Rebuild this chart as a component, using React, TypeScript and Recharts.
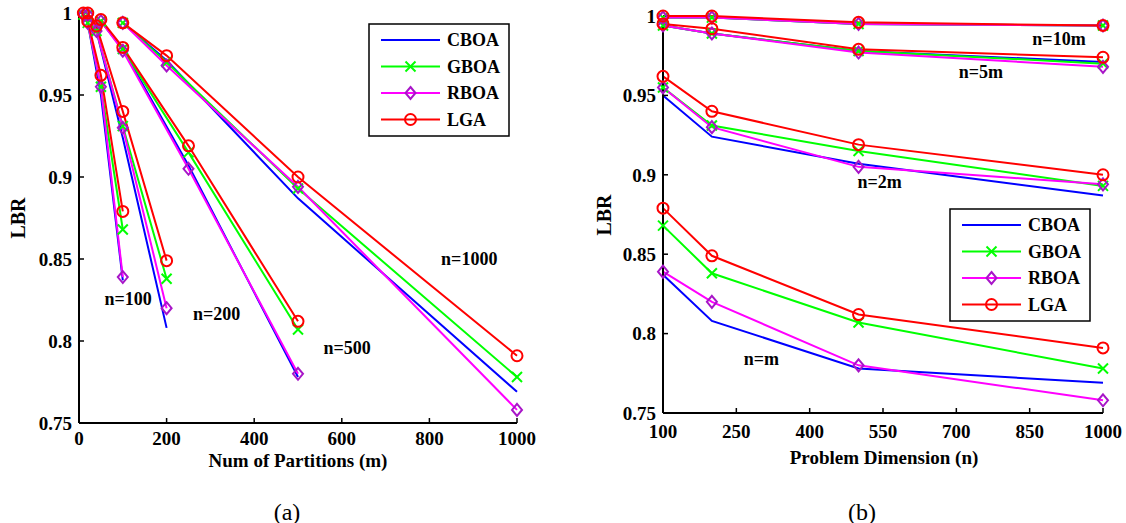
import React from 'react';
import { LineChart, Line, XAxis, YAxis, ReferenceDot } from 'recharts';

const FONT = "Liberation Serif, DejaVu Serif, serif";

// problem dimensions n, and the n/m ratios each curve family was run at
const DIMS = [100, 200, 500, 1000];
const RATIOS = [1, 2, 5, 10];
const DIM_LABELS = ['n=100', 'n=200', 'n=500', 'n=1000'];
const RATIO_LABELS = ['n=m', 'n=2m', 'n=5m', 'n=10m'];

const M_TICKS = [0, 200, 400, 600, 800, 1000];
const N_TICKS = [100, 250, 400, 550, 700, 850, 1000];
const LBR_TICKS = [0.75, 0.8, 0.85, 0.9, 0.95, 1];

// LBR at n = 100, 200, 500, 1000
const CBOA_R1 = [0.837, 0.808, 0.778, 0.769];
const CBOA_R2 = [0.95, 0.924, 0.907, 0.887];
const CBOA_R5 = [0.994, 0.989, 0.978, 0.971];
const CBOA_R10 = [0.999, 0.999, 0.995, 0.994];

const GBOA_R1 = [0.868, 0.838, 0.807, 0.778];
const GBOA_R2 = [0.955, 0.931, 0.915, 0.893];
const GBOA_R5 = [0.994, 0.989, 0.978, 0.97];
const GBOA_R10 = [0.999, 0.999, 0.995, 0.994];

const RBOA_R1 = [0.839, 0.82, 0.78, 0.758];
const RBOA_R2 = [0.955, 0.93, 0.905, 0.894];
const RBOA_R5 = [0.994, 0.989, 0.977, 0.968];
const RBOA_R10 = [0.999, 0.999, 0.995, 0.994];

const LGA_R1 = [0.879, 0.849, 0.812, 0.791];
const LGA_R2 = [0.962, 0.94, 0.919, 0.9];
const LGA_R5 = [0.995, 0.992, 0.979, 0.974];
const LGA_R10 = [1.0, 1.0, 0.996, 0.994];

const DIAMOND = '#a815c8';

const ALGOS = [
  { name: 'CBOA', color: '#0000ff', mark: 'none', rows: [CBOA_R1, CBOA_R2, CBOA_R5, CBOA_R10] },
  { name: 'GBOA', color: '#00ff00', mark: 'x', rows: [GBOA_R1, GBOA_R2, GBOA_R5, GBOA_R10] },
  { name: 'RBOA', color: '#ff00ff', mark: 'diamond', rows: [RBOA_R1, RBOA_R2, RBOA_R5, RBOA_R10] },
  { name: 'LGA', color: '#ff0000', mark: 'circle', rows: [LGA_R1, LGA_R2, LGA_R5, LGA_R10] },
];

type Pt = { x: number; v: number };

// (a): fixed n, m = n / ratio
const byDim = (rows: number[][], j: number): Pt[] =>
  RATIOS.map((k, i) => ({ x: DIMS[j] / k, v: rows[i][j] })).sort((a, b) => a.x - b.x);

// (b): fixed ratio, across n
const byRatio = (rows: number[][], i: number): Pt[] => DIMS.map((n, j) => ({ x: n, v: rows[i][j] }));

function Marker({ kind, cx, cy }: { kind: string; cx: number; cy: number }) {
  if (kind === 'x')
    return (
      <g stroke="#00ff00" strokeWidth={2}>
        <line x1={cx - 5} y1={cy - 5} x2={cx + 5} y2={cy + 5} />
        <line x1={cx - 5} y1={cy + 5} x2={cx + 5} y2={cy - 5} />
      </g>
    );
  if (kind === 'diamond')
    return (
      <polygon
        points={`${cx},${cy - 6} ${cx + 5},${cy} ${cx},${cy + 6} ${cx - 5},${cy}`}
        fill="none"
        stroke={DIAMOND}
        strokeWidth={2}
      />
    );
  if (kind === 'circle') return <circle cx={cx} cy={cy} r={5.5} fill="none" stroke="#ff0000" strokeWidth={2} />;
  return null;
}

const tickFont = { fill: '#000', fontSize: 19, fontWeight: 700, fontFamily: FONT };
const axisLine = { stroke: '#000', strokeWidth: 2 };
const tickLine = { stroke: '#000', strokeWidth: 1.5 };

type Note = { text: string; x: number; y: number };
type Series = { id: string; color: string; mark: string; data: Pt[] };

function Panel({
  width,
  margin,
  xDomain,
  xTicks,
  xGap,
  series,
  notes,
}: {
  width: number;
  margin: { top: number; right: number; bottom: number; left: number };
  xDomain: [number, number];
  xTicks: number[];
  xGap: number;
  series: Series[];
  notes: Note[];
}) {
  return (
    <LineChart width={width} height={523} margin={margin} style={{ fontFamily: FONT }}>
      <XAxis
        xAxisId="b"
        type="number"
        dataKey="x"
        domain={xDomain}
        ticks={xTicks}
        interval={0}
        height={40}
        tickSize={-5}
        tickMargin={xGap}
        axisLine={axisLine}
        tickLine={tickLine}
        tick={tickFont}
      />
      <XAxis
        xAxisId="t"
        orientation="top"
        type="number"
        dataKey="x"
        domain={xDomain}
        ticks={xTicks}
        interval={0}
        height={0}
        tickSize={-5}
        axisLine={axisLine}
        tickLine={tickLine}
        tick={false}
      />
      <YAxis
        yAxisId="l"
        type="number"
        domain={[0.75, 1]}
        ticks={LBR_TICKS}
        interval={0}
        width={60}
        tickSize={-5}
        tickMargin={12}
        axisLine={axisLine}
        tickLine={tickLine}
        tick={tickFont}
      />
      <YAxis
        yAxisId="r"
        orientation="right"
        type="number"
        domain={[0.75, 1]}
        ticks={LBR_TICKS}
        interval={0}
        width={0}
        tickSize={-5}
        axisLine={axisLine}
        tickLine={tickLine}
        tick={false}
      />
      {series.map((s) => (
        <Line
          key={s.id}
          xAxisId="b"
          yAxisId="l"
          data={s.data}
          dataKey="v"
          type="linear"
          stroke={s.color}
          strokeWidth={2}
          isAnimationActive={false}
          activeDot={false}
          dot={
            s.mark === 'none'
              ? false
              : (p: any) => <Marker key={`${s.id}-${p.index}`} kind={s.mark} cx={p.cx} cy={p.cy} />
          }
        />
      ))}
      {notes.map((n) => (
        <ReferenceDot
          key={n.text}
          xAxisId="b"
          yAxisId="l"
          x={n.x}
          y={n.y}
          r={0}
          fill="none"
          stroke="none"
          ifOverflow="visible"
          label={{ value: n.text, position: 'center', fill: '#000', fontSize: 18, fontWeight: 700, fontFamily: FONT }}
        />
      ))}
    </LineChart>
  );
}

function LegendBox({ left, top }: { left: number; top: number }) {
  return (
    <svg width={142} height={115} style={{ position: 'absolute', left, top }}>
      <rect x={1} y={1} width={140} height={112} fill="#fff" stroke="#000" strokeWidth={1.5} />
      {ALGOS.map((a, i) => {
        const y = 17 + i * 26.5;
        return (
          <g key={a.name}>
            <line x1={13} x2={72} y1={y} y2={y} stroke={a.color} strokeWidth={2} />
            <Marker kind={a.mark} cx={42.5} cy={y} />
            <text x={79} y={y} dy="0.35em" style={{ fontFamily: FONT }} fontWeight={700} fontSize={18} fill="#000">
              {a.name}
            </text>
          </g>
        );
      })}
    </svg>
  );
}

function Caption({ x, y, text, size = 20, bold = true, rotate = false }: any) {
  return (
    <div
      style={{
        position: 'absolute',
        left: x,
        top: y,
        transform: `translate(-50%, -50%)${rotate ? ' rotate(-90deg)' : ''}`,
        whiteSpace: 'nowrap',
        fontFamily: FONT,
        fontSize: size,
        fontWeight: bold ? 700 : 400,
        lineHeight: 1,
        color: '#000',
      }}
    >
      {text}
    </div>
  );
}

// label anchors in data coordinates
const DIM_NOTE_AT = [
  [112, 0.826],
  [314, 0.817],
  [612, 0.796],
  [891, 0.85],
];
const RATIO_NOTE_AT = [
  [301, 0.784],
  [543, 0.8955],
  [750, 0.965],
  [910, 0.986],
];

export default function App() {
  const left: Series[] = [];
  const right: Series[] = [];
  ALGOS.forEach((a) => {
    DIMS.forEach((n, j) =>
      left.push({ id: `${a.name}-n${n}`, color: a.color, mark: a.mark, data: byDim(a.rows, j) })
    );
    RATIOS.forEach((k, i) =>
      right.push({ id: `${a.name}-k${k}`, color: a.color, mark: a.mark, data: byRatio(a.rows, i) })
    );
  });

  const leftNotes = DIM_LABELS.map((t, i) => ({ text: t, x: DIM_NOTE_AT[i][0], y: DIM_NOTE_AT[i][1] }));
  const rightNotes = RATIO_LABELS.map((t, i) => ({ text: t, x: RATIO_NOTE_AT[i][0], y: RATIO_NOTE_AT[i][1] }));

  return (
    <div style={{ position: 'absolute', left: 0, top: 0, width: 1126, height: 523, background: '#fff', fontFamily: FONT }}>
      <div style={{ position: 'absolute', left: 0, top: 0 }}>
        <Panel
          width={560}
          margin={{ top: 13, right: 43, bottom: 60, left: 19 }}
          xDomain={[0, 1000]}
          xTicks={M_TICKS}
          xGap={14}
          series={left}
          notes={leftNotes}
        />
      </div>
      <div style={{ position: 'absolute', left: 560, top: 0 }}>
        <Panel
          width={566}
          margin={{ top: 16, right: 23, bottom: 70, left: 43 }}
          xDomain={[100, 1000]}
          xTicks={N_TICKS}
          xGap={17}
          series={right}
          notes={rightNotes}
        />
      </div>
      <LegendBox left={368} top={23} />
      <LegendBox left={949} top={208} />
      <Caption x={298} y={460} text="Num of Partitions (m)" size={19} />
      <Caption x={884} y={457} text="Problem Dimension (n)" size={19} />
      <Caption x={17.5} y={218} text="LBR" rotate />
      <Caption x={604} y={215} text="LBR" rotate />
      <Caption x={287} y={512} text="(a)" size={24} bold={false} />
      <Caption x={862} y={512} text="(b)" size={24} bold={false} />
    </div>
  );
}
